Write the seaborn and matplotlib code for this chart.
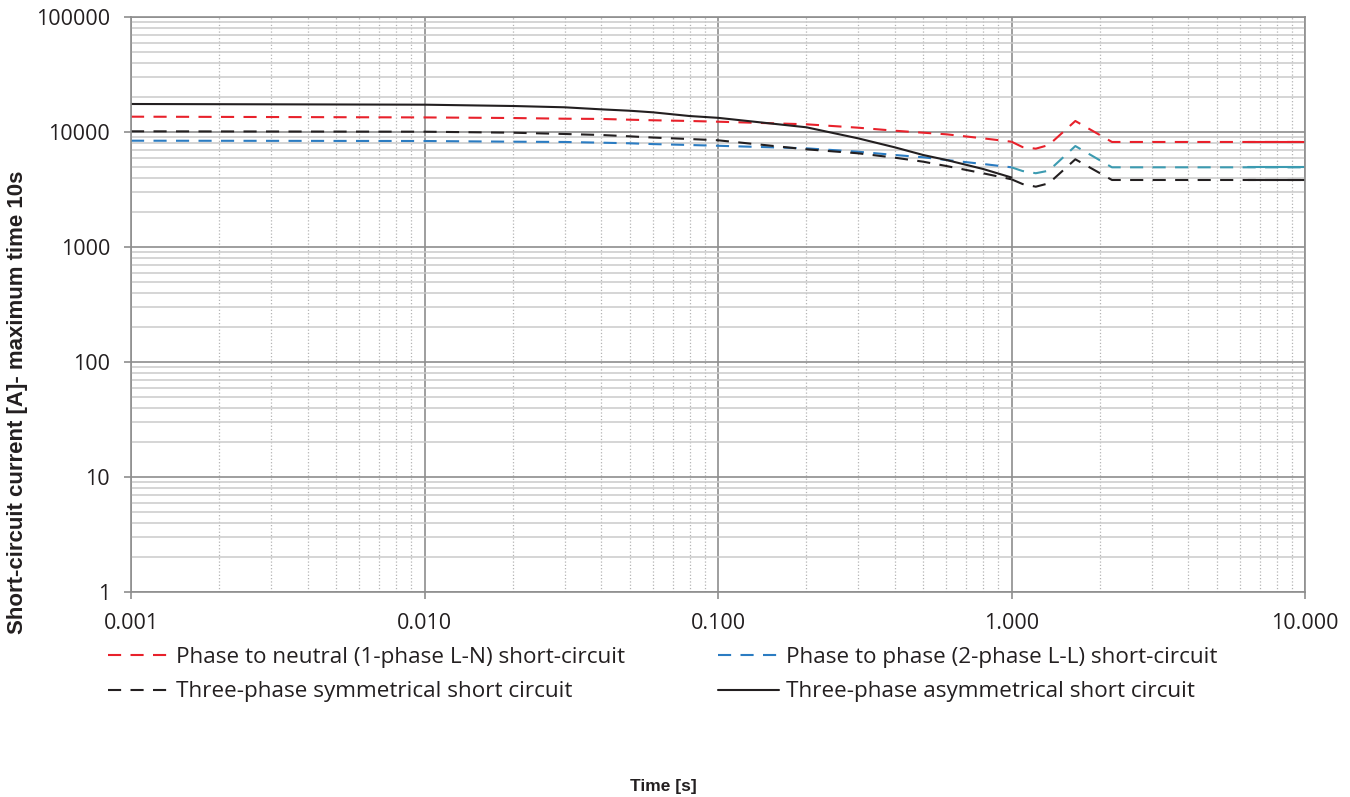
import matplotlib
matplotlib.use("Agg")
import matplotlib.pyplot as plt
import matplotlib.ticker as mticker
import seaborn as sns
import pandas as pd

# time axis [s]
t_main = [0.001, 0.01, 0.02, 0.03, 0.04, 0.05, 0.06, 0.08, 0.1, 0.2, 0.3, 0.4, 0.5, 0.6, 0.8, 1.0]
t_tail = [1.0, 1.09, 1.21, 1.34, 1.65, 2.2, 6.4, 10.0]

# Phase to neutral (1-phase L-N)
ln_main = [13590, 13390, 13230, 13050, 12990, 12790, 12650, 12470, 12290, 11670, 10900, 10260, 9860, 9550, 8810, 8235]
ln_tail = [8235, 7400, 7160, 7710, 12470, 8190, 8190, 8190]

# Phase to phase (2-phase L-L)
ll_main = [8400, 8350, 8235, 8190, 8075, 7975, 7850, 7710, 7590, 7210, 6740, 6310, 6030, 5710, 5270, 4930]
ll_tail = [4930, 4580, 4380, 4610, 7550, 4930, 4930, 4930]

# Three-phase symmetrical
sym_main = [10140, 10060, 9860, 9610, 9420, 9170, 8950, 8690, 8470, 7070, 6530, 5980, 5520, 5060, 4375, 3880]
sym_tail = [3880, 3530, 3345, 3580, 5790, 3826, 3826, 3826]

# Three-phase asymmetrical
asym_main = [17520, 17280, 16830, 16400, 15740, 15310, 14830, 13770, 13280, 10990, 8810, 7360, 6310, 5710, 4770, 4020]

labels = [
    "Phase to neutral (1-phase L-N) short-circuit",
    "Phase to phase (2-phase L-L) short-circuit",
    "Three-phase symmetrical short circuit",
    "Three-phase asymmetrical short circuit",
]
x_ticks = [0.001, 0.01, 0.1, 1, 10]
x_ticklabels = ["0.001", "0.010", "0.100", "1.000", "10.000"]
y_ticks = [1, 10, 100, 1000, 10000, 100000]
y_ticklabels = ["1", "10", "100", "1000", "10000", "100000"]

RED = "#e8212b"
BLUE = "#2b7cc2"
TEAL = "#3c9bb1"
BLACK = "#231f20"
DASH = (0, (6.3, 4.5))
LW = 1.5

sns.set_theme(style="white")
plt.rcParams["font.family"] = ["Open Sans", "DejaVu Sans"]

fig = plt.figure(figsize=(13.5, 7.97), dpi=100)
ax = fig.add_axes([131 / 1350, 1 - 592 / 797, (1305 - 131) / 1350, (592 - 17) / 797])

ax.set_xscale("log")
ax.set_yscale("log")
ax.set_xlim(0.001, 10)
ax.set_ylim(1, 100000)

# grid
ax.set_axisbelow(True)
ax.yaxis.set_minor_locator(mticker.LogLocator(base=10, subs=range(2, 10), numticks=20))
ax.xaxis.set_minor_locator(mticker.LogLocator(base=10, subs=range(2, 10), numticks=20))
ax.grid(which="major", axis="both", color="#8e8e8e", linewidth=1.2)
ax.grid(which="minor", axis="y", color="#cacaca", linewidth=1.1)
ax.grid(which="minor", axis="x", color="#b4b4b4", linewidth=0.9, linestyle=":")


def seg(x, y, color, ls, lw=LW):
    d = pd.DataFrame({"t": x, "I": y})
    sns.lineplot(data=d, x="t", y="I", ax=ax, color=color, linestyle=ls,
                 linewidth=lw, errorbar=None, sort=False)


# dashed curves, with solid end pieces as in the source
seg(t_main, ln_main, RED, DASH)
seg(t_tail, ln_tail, RED, DASH)
seg(t_tail[-2:], ln_tail[-2:], RED, "-")

seg(t_main, ll_main, BLUE, DASH)
seg(t_tail, ll_tail, TEAL, DASH)
seg(t_tail[-2:], ll_tail[-2:], TEAL, "-")

seg(t_main, sym_main, BLACK, DASH)
seg(t_tail, sym_tail, BLACK, DASH)
seg(t_tail[-2:], sym_tail[-2:], BLACK, "-")

seg(t_main, asym_main, BLACK, "-")

ax.set_xticks(x_ticks)
ax.set_xticklabels(x_ticklabels)
ax.set_yticks(y_ticks)
ax.set_yticklabels(y_ticklabels)
ax.tick_params(which="major", length=5, width=1.2, color="#8e8e8e",
               labelsize=15.5, labelcolor="#231f20", pad=10, left=True, bottom=True)
ax.tick_params(which="minor", length=0)
for s in ax.spines.values():
    s.set_color("#8e8e8e")
    s.set_linewidth(1.2)
ax.set_xlabel("")
ax.set_ylabel("")

bold = dict(fontweight="bold", family=["Liberation Sans", "DejaVu Sans"], color="#231f20")
fig.text(18 / 1350, 1 - 402 / 797, "Short-circuit current [A]- maximum time 10s",
         rotation=90, ha="center", va="center", fontsize=16, **bold)
fig.text(663 / 1350, 1 - 787 / 797, "Time [s]", ha="center", va="center",
         fontsize=12.5, **bold)

# legend, two columns
h_red = plt.Line2D([], [], color=RED, linestyle=DASH, linewidth=LW)
h_blue = plt.Line2D([], [], color=BLUE, linestyle=DASH, linewidth=LW)
h_sym = plt.Line2D([], [], color=BLACK, linestyle=DASH, linewidth=LW)
h_asym = plt.Line2D([], [], color=BLACK, linestyle="-", linewidth=LW)
leg_kw = dict(frameon=False, handlelength=2.7, handletextpad=0.32,
              labelspacing=0.6, borderaxespad=0, borderpad=0,
              prop={"family": ["Open Sans", "DejaVu Sans"], "size": 16.2})
l1 = fig.legend([h_red, h_sym], [labels[0], labels[2]], loc="upper left",
                bbox_to_anchor=(108 / 1350, 1 - 647 / 797), **leg_kw)
l2 = fig.legend([h_blue, h_asym], [labels[1], labels[3]], loc="upper left",
                bbox_to_anchor=(718 / 1350, 1 - 647 / 797), **leg_kw)
for lg in (l1, l2):
    for txt in lg.get_texts():
        txt.set_color("#231f20")

fig.savefig("out.png", dpi=100)
